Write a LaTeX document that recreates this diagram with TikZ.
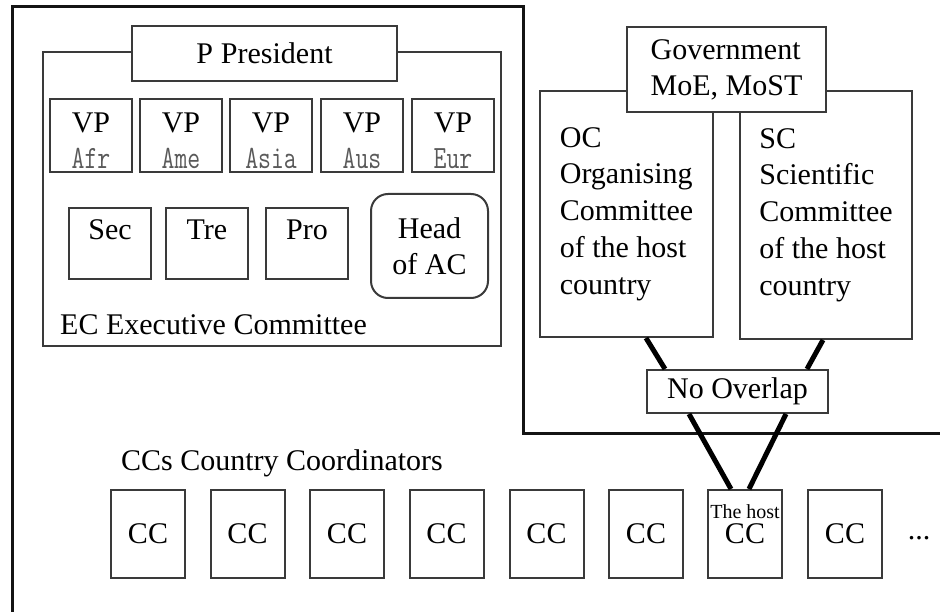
\documentclass[tikz,border=0pt]{standalone}
\usepackage{fontspec}
\setmainfont{Liberation Serif}
\definecolor{boxline}{HTML}{3A3A3A}
\definecolor{subgray}{HTML}{5A5A5A}
\newcommand{\vpsub}[1]{{\color{subgray}\ttfamily\fontsize{25}{25}\selectfont\scalebox{1}[1.3]{#1}}}
\tikzset{
  box/.style={draw=boxline, line width=2pt, fill=white, inner sep=0pt,
    font=\fontsize{30}{36}\selectfont, align=center},
  txt/.style={inner sep=0pt, font=\fontsize{30}{36}\selectfont},
  frameline/.style={draw=black!92, line width=3pt},
  link/.style={draw=black, line width=5pt},
  vpbox/.style={box, minimum width=82pt, minimum height=73pt},
  offbox/.style={box, minimum width=82pt, minimum height=71pt},
  ccbox/.style={box, minimum width=74pt, minimum height=88pt},
  comm/.style={box, align=left, font=\fontsize{30}{36.75}\selectfont},
}
\begin{document}
\begin{tikzpicture}[x=1pt,y=-1pt]
\useasboundingbox (0,0) rectangle (940,612);
% outer frame
\draw[frameline] (12,612) -- (12,7) -- (523,7) -- (523,433) -- (940,433);

% Executive committee
\node[box, minimum width=458pt, minimum height=294pt] (ec) at (272,199) {};
\node[txt, anchor=west] (ectext) at (60,325) {EC Executive Committee};
\node[box, minimum width=265pt, minimum height=55pt] (pres) at (264.5,53.5) {P\hspace{8pt}President};

\node[vpbox] (vp1) at (91,135.5)  {\rule{0pt}{30pt}VP\\\vpsub{Afr}};
\node[vpbox] (vp2) at (181,135.5) {\rule{0pt}{30pt}VP\\\vpsub{Ame}};
\node[vpbox] (vp3) at (271,135.5) {\rule{0pt}{30pt}VP\\\vpsub{Asia}};
\node[vpbox] (vp4) at (362,135.5) {\rule{0pt}{30pt}VP\\\vpsub{Aus}};
\node[vpbox] (vp5) at (453,135.5) {\rule{0pt}{30pt}VP\\\vpsub{Eur}};

\node[offbox] (sec) at (110,243.5) {Sec\rule[-27pt]{0pt}{27pt}};
\node[offbox] (tre) at (207,243.5) {Tre\rule[-27pt]{0pt}{27pt}};
\node[offbox] (pro) at (307,243.5) {Pro\rule[-27pt]{0pt}{27pt}};
\node[box, rounded corners=17pt, minimum width=117pt, minimum height=104pt] (head) at (429.5,246) {Head\\of AC};

% host-country committees
\node[comm, minimum width=173pt, minimum height=246pt] (oc) at (626.5,214)
  {OC\\Organising\\Committee\\of the host\\country};
\node[comm, minimum width=172pt, minimum height=248pt] (sc) at (826,215)
  {SC\\Scientific\\Committee\\of the host\\country};
\node[box, align=left, minimum width=199pt, minimum height=85pt] (gov) at (726.5,69.5)
  {Government\\MoE, MoST};
\node[box, minimum width=181pt, minimum height=43pt] (noov) at (737.5,391.5) {No Overlap};

% country coordinators
\node[txt, anchor=west] (cctitle) at (121,463) {CCs Country Coordinators};
\node[ccbox] (cc1) at (148,534) {CC};
\node[ccbox] (cc2) at (247.5,534) {CC};
\node[ccbox] (cc3) at (347,534) {CC};
\node[ccbox] (cc4) at (446.5,534) {CC};
\node[ccbox] (cc5) at (546.5,534) {CC};
\node[ccbox] (cc6) at (646,534) {CC};
\node[ccbox] (host) at (745,534) {CC};
\node[inner sep=0pt, font=\fontsize{20}{20}\selectfont] (hostlbl) at (745,512) {The host};
\node[ccbox] (cc8) at (845,534) {CC};
\node[txt] (dots) at (919,538) {...};

% links
\draw[link] ([xshift=107pt]oc.south west) -- ([xshift=19pt]noov.north west);
\draw[link] ([xshift=84pt]sc.south west) -- ([xshift=161pt]noov.north west);
\draw[link] ([xshift=43pt]noov.south west) -- ([xshift=24pt]host.north west);
\draw[link] ([xshift=140pt]noov.south west) -- ([xshift=42pt]host.north west);
\end{tikzpicture}
\end{document}
